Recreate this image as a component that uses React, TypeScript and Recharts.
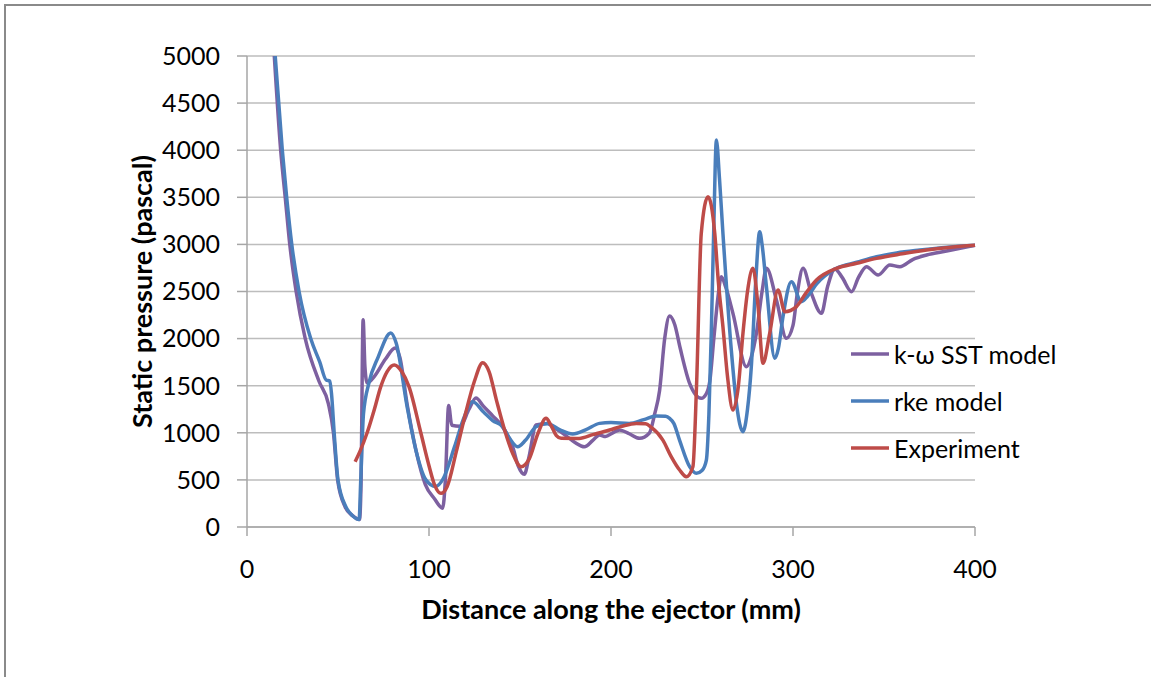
import { LineChart, Line, XAxis, YAxis, CartesianGrid } from "recharts";

// distance along the ejector (mm), static pressure (Pa)
const kwSst = [
  [15, 5000], [18.5, 4000], [21, 3500], [23.5, 3000], [27, 2500], [32, 2000], [39.5, 1550],
  [44.7, 1310], [47.5, 1000], [49.8, 500], [54, 210], [58, 120], [61.8, 80], [62.6, 400],
  [63.8, 2200], [64.8, 1700], [66, 1530], [70, 1600], [76, 1780], [81.4, 1900], [84, 1800],
  [88, 1300], [93, 800], [98, 450], [103, 300], [107.5, 200], [109, 500], [110.8, 1290],
  [112.5, 1080], [117, 1070], [122, 1250], [125.8, 1370], [130, 1280], [135, 1180], [140.4, 1065],
  [146, 850], [149, 650], [152.4, 560], [155, 750], [158.8, 1083], [165, 1100], [169, 1050],
  [173.5, 995], [180, 900], [185.4, 852], [190, 920], [193.7, 977], [197, 960], [201, 1000],
  [204.7, 1030], [210, 990], [215.7, 941], [221, 995], [224, 1200], [226.7, 1450], [229.5, 2000],
  [232.2, 2240], [235, 2150], [238, 1900], [243.2, 1525], [249.6, 1366], [252.5, 1420],
  [254.3, 1550], [256.5, 2000], [258.8, 2445], [260.6, 2657], [263, 2550], [267, 2268],
  [274.4, 1702], [277, 1800], [279.9, 2056], [283, 2500], [285.4, 2746], [290.9, 2410],
  [296.4, 2003], [300, 2140], [302.5, 2500], [305.5, 2746], [310.1, 2480], [315.6, 2268],
  [319, 2550], [323, 2740], [327, 2650], [332.2, 2498], [336, 2650], [340.4, 2763], [346.8, 2675],
  [353.2, 2781], [358.7, 2763], [366, 2842], [373.4, 2887], [384.4, 2930], [400, 2990],
];

const rke = [
  [15.5, 5000], [19.4, 4000], [21.8, 3500], [24.6, 3000], [28.6, 2500], [35, 2000], [40, 1750],
  [43.5, 1560], [45.5, 1550], [46.5, 1400], [47.9, 1000], [50, 500], [54.3, 216], [58, 120],
  [61.6, 80], [62.5, 500], [64, 1200], [67, 1530], [72, 1800], [79, 2060], [82, 1950], [88, 1275],
  [93, 800], [98.3, 500], [103.6, 430], [108, 520], [114, 850], [119, 1150], [124, 1330],
  [130, 1220], [135, 1130], [140.4, 1065], [144, 950], [148.7, 852], [153, 920], [158.8, 1065],
  [165, 1100], [172, 1030], [179, 987], [186, 1030], [193.7, 1100], [200, 1110], [210, 1100],
  [218, 1140], [224.9, 1178], [230, 1175], [232.2, 1154], [234.5, 1100], [237.7, 920],
  [243.2, 640], [246.9, 570], [250, 600], [252.4, 711], [253.8, 1200], [255.1, 2056],
  [256.5, 3200], [257.9, 4108], [259.6, 3700], [261.5, 3118], [266.1, 1879], [269, 1300],
  [272.5, 1012], [275, 1250], [277.1, 1702], [279.5, 2600], [281.7, 3135], [283, 3000],
  [285.4, 2551], [290, 1791], [292, 1900], [294.5, 2233], [299.1, 2604], [304.6, 2392],
  [308, 2450], [313, 2580], [323.9, 2746], [335, 2810], [345.9, 2870], [357, 2910],
  [369.7, 2940], [385, 2970], [400, 2990],
];

const experiment = [
  [59.4, 693], [62, 800], [66, 1000], [70, 1250], [73.5, 1490], [77, 1650], [80.9, 1720],
  [85, 1650], [89, 1490], [95.5, 1000], [100, 650], [103, 450], [106.6, 357], [110, 430],
  [115, 800], [120, 1200], [125, 1550], [129.5, 1744], [133, 1650], [137, 1350], [142, 1000],
  [146, 780], [150.6, 640], [155, 720], [160, 1000], [164.3, 1154], [167, 1080], [170, 970],
  [172.6, 941], [182.5, 940], [190, 980], [199.2, 1030], [206, 1070], [213.9, 1100], [219, 1095],
  [222, 1060], [228.5, 923], [233, 750], [237.7, 605], [241.4, 534], [245, 640], [247, 1500],
  [249.6, 3118], [253.3, 3507], [257, 3118], [259, 2600], [261.5, 2126], [264, 1600], [267, 1242],
  [270, 1500], [272.5, 2056], [275, 2500], [278, 2746], [280.8, 2340], [283.5, 1738],
  [287.2, 2056], [291.8, 2516], [295.5, 2286], [301.9, 2340], [307, 2480], [312.9, 2622],
  [323.9, 2746], [335, 2800], [345.9, 2852], [360, 2900], [373.4, 2940], [387, 2970], [400, 2990],
];

const xTicks = [0, 100, 200, 300, 400];
const yTicks = [0, 500, 1000, 1500, 2000, 2500, 3000, 3500, 4000, 4500, 5000];

const FONT = "Lato, 'Open Sans', sans-serif";

const series = [
  { name: "k-ω SST model", color: "#7D60A0", points: kwSst },
  { name: "rke model", color: "#4A7EBB", points: rke },
  { name: "Experiment", color: "#BE4B48", points: experiment },
];

const toRows = (pts: number[][]) => pts.map(([x, y]) => ({ x, y }));

function LegendBox() {
  return (
    <div
      style={{
        position: "absolute",
        left: 850,
        top: 330,
        fontFamily: FONT,
        fontSize: 25,
        color: "#000",
      }}
    >
      {series.map((s) => (
        <div key={s.name} style={{ height: 47, display: "flex", alignItems: "center" }}>
          <svg width={40} height={10} style={{ marginRight: 4 }}>
            <line x1={1} y1={5} x2={39} y2={5} stroke={s.color} strokeWidth={3.5} />
          </svg>
          <span style={{ whiteSpace: "nowrap" }}>{s.name}</span>
        </div>
      ))}
    </div>
  );
}

function YTitle(props: any) {
  const vb = props.viewBox || { x: 0, y: 56, width: 247, height: 471 };
  const cx = vb.x + 141;
  const cy = vb.y + vb.height / 2;
  return (
    <text
      x={cx}
      y={cy}
      transform={`rotate(-90 ${cx} ${cy})`}
      textAnchor="middle"
      dominantBaseline="central"
      fontFamily={FONT}
      fontWeight="bold"
      fontSize={27}
      fill="#000"
    >
      Static pressure (pascal)
    </text>
  );
}

function XTitle(props: any) {
  const vb = props.viewBox || { x: 247, y: 527, width: 728, height: 60 };
  return (
    <text
      x={vb.x + vb.width / 2}
      y={608}
      textAnchor="middle"
      dominantBaseline="central"
      fontFamily={FONT}
      fontWeight="bold"
      fontSize={27}
      fill="#000"
    >
      Distance along the ejector (mm)
    </text>
  );
}

export default function App() {
  return (
    <div
      style={{
        position: "absolute",
        left: 0,
        top: 0,
        width: 1151,
        height: 677,
        overflow: "hidden",
        background: "#fff",
      }}
    >
      <div
        style={{
          position: "absolute",
          left: 4,
          top: 4,
          width: 1300,
          height: 900,
          borderTop: "2px solid #8a8a8a",
          borderLeft: "2px solid #8a8a8a",
        }}
      />
      <LineChart width={1151} height={677} margin={{ top: 56, right: 176, bottom: 90, left: 0 }}>
        <CartesianGrid vertical={false} stroke="#BDBDBD" strokeWidth={1.5} />
        <XAxis
          type="number"
          dataKey="x"
          domain={[0, 400]}
          ticks={xTicks}
          height={60}
          stroke="#A6A6A6"
          strokeWidth={1.5}
          tickSize={9}
          tickMargin={24}
          tick={{ fill: "#000", fontSize: 25, fontFamily: FONT }}
          label={<XTitle />}
        />
        <YAxis
          type="number"
          domain={[0, 5000]}
          ticks={yTicks}
          width={247}
          allowDataOverflow
          stroke="#A6A6A6"
          strokeWidth={1.5}
          tickSize={10}
          tickMargin={17}
          tick={{ fill: "#000", fontSize: 25, fontFamily: FONT }}
          label={<YTitle />}
        />
        {series.map((s) => (
          <Line
            key={s.name}
            data={toRows(s.points)}
            dataKey="y"
            name={s.name}
            type="monotone"
            stroke={s.color}
            strokeWidth={3.5}
            dot={false}
            activeDot={false}
            isAnimationActive={false}
          />
        ))}
      </LineChart>
      <LegendBox />
    </div>
  );
}
